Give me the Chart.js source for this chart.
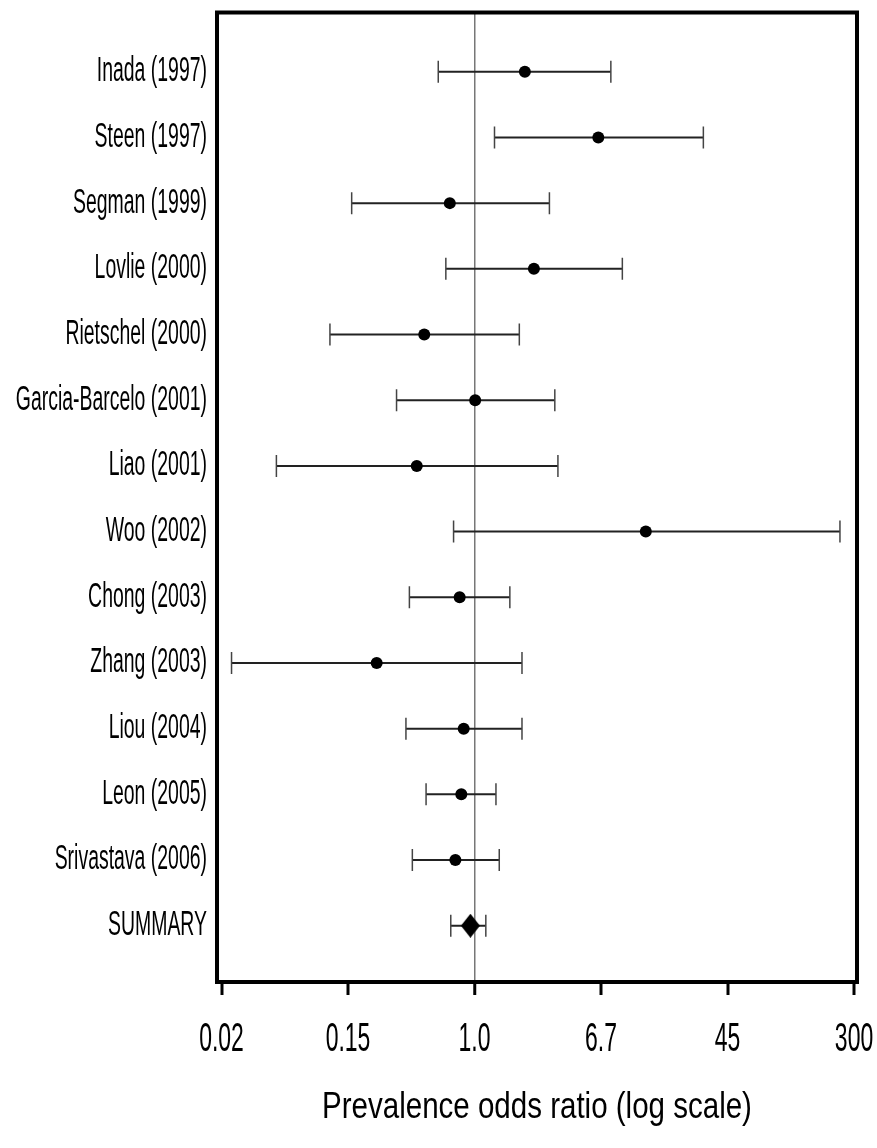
<!DOCTYPE html>
<html>
<head>
<meta charset="utf-8">
<script src="https://cdn.jsdelivr.net/npm/chart.js@4.4.1/dist/chart.umd.min.js"></script>
<style>
  html, body { margin: 0; padding: 0; background: #fff; }
  #wrap { width: 877px; height: 1148px; }
</style>
</head>
<body>
<div id="wrap"><canvas id="forest" width="877" height="1148"></canvas></div>
<script>
// Study labels, top to bottom; the pooled estimate is the last row
const studies = [
  'Inada (1997)', 'Steen (1997)', 'Segman (1999)', 'Lovlie (2000)',
  'Rietschel (2000)', 'Garcia-Barcelo (2001)', 'Liao (2001)', 'Woo (2002)',
  'Chong (2003)', 'Zhang (2003)', 'Liou (2004)', 'Leon (2005)',
  'Srivastava (2006)', 'SUMMARY'
];
// Prevalence odds ratios and 95% confidence limits
const oddsRatio = [2.13, 6.42, 0.69, 2.44, 0.47, 1.01, 0.42, 13.1, 0.80, 0.23, 0.85, 0.82, 0.75, 0.94];
const ciLower   = [0.58, 1.35, 0.158, 0.65, 0.114, 0.31, 0.051, 0.73, 0.376, 0.026, 0.357, 0.483, 0.393, 0.70];
const ciUpper   = [7.75, 31.1, 3.08, 9.21, 1.96, 3.34, 3.50, 242, 1.70, 2.04, 2.04, 1.38, 1.45, 1.185];
// Axis ticks (equal steps on the log axis) and their printed labels
const tickValues = [0.02237, 0.1496, 1, 6.686, 44.70, 298.9];
const tickLabels = ['0.02', '0.15', '1.0', '6.7', '45', '300'];
const axisTitle = 'Prevalence odds ratio (log scale)';

const summaryIndex = studies.length - 1;
const FONT = "'Liberation Sans', Arial, sans-serif";
// condensed, tall lettering: [horizontal, vertical] scale keyed by font size
const textStretch = { '24': [0.81, 1.43], '28': [0.82, 1.45], '36': [0.82, 1.0] };

// diamond marker for the pooled estimate
const diamond = document.createElement('canvas');
diamond.width = 19; diamond.height = 24;
(function () {
  const g = diamond.getContext('2d');
  g.fillStyle = '#000';
  g.beginPath();
  g.moveTo(9.5, 0); g.lineTo(19, 12); g.lineTo(9.5, 24); g.lineTo(0, 12);
  g.closePath(); g.fill();
})();

const whiskers = studies.map((name, i) => ({
  label: name,
  data: [{ x: ciLower[i], y: i }, { x: ciUpper[i], y: i }],
  showLine: true,
  borderColor: '#222',
  borderWidth: 2,
  pointStyle: 'line',
  pointRotation: 90,
  pointRadius: 11,
  pointHoverRadius: 11,
  pointBorderColor: '#444',
  pointBorderWidth: 1.5,
  order: 2
}));

const estimates = {
  label: 'estimate',
  data: studies.map((name, i) => ({ x: oddsRatio[i], y: i })).filter((p, i) => i !== summaryIndex),
  pointStyle: 'circle',
  pointRadius: 6,
  pointHoverRadius: 6,
  backgroundColor: '#000',
  borderColor: '#000',
  borderWidth: 0,
  order: 0
};

const pooled = {
  label: 'summary',
  data: [{ x: oddsRatio[summaryIndex], y: summaryIndex }],
  pointStyle: diamond,
  pointRadius: 10,
  order: 0
};

// condense / stretch canvas lettering around its anchor point
const tallText = {
  id: 'tallText',
  beforeDraw(chart) {
    const ctx = chart.ctx;
    if (ctx.__tall) return;
    const base = ctx.fillText;
    ctx.fillText = function (text, x, y, maxWidth) {
      const m = /(\d+(?:\.\d+)?)px/.exec(this.font);
      const s = (m && textStretch[m[1]]) || [1, 1];
      this.save();
      this.translate(x, y);
      this.scale(s[0], s[1]);
      if (maxWidth === undefined) base.call(this, text, 0, 0);
      else base.call(this, text, 0, 0, maxWidth / s[0]);
      this.restore();
    };
    ctx.__tall = true;
  }
};

// heavy box around the plotting region
const frame = {
  id: 'frame',
  afterDraw(chart) {
    const { ctx, chartArea: a } = chart;
    ctx.save();
    ctx.strokeStyle = '#000';
    ctx.lineWidth = 4;
    ctx.strokeRect(a.left, a.top, a.right - a.left, a.bottom - a.top);
    ctx.restore();
  }
};

function noEdgePadding(sc) {
  sc.paddingLeft = 0; sc.paddingRight = 0; sc.paddingTop = 0; sc.paddingBottom = 0;
}

new Chart(document.getElementById('forest'), {
  type: 'scatter',
  data: { datasets: [...whiskers, estimates, pooled] },
  plugins: [tallText, frame],
  options: {
    responsive: false,
    animation: false,
    devicePixelRatio: 1,
    events: [],
    layout: { padding: { top: 12, right: 20, left: 0, bottom: 0 } },
    plugins: { legend: { display: false }, tooltip: { enabled: false } },
    scales: {
      x: {
        type: 'logarithmic',
        position: 'bottom',
        min: 0.0209,
        max: 312.6,
        afterBuildTicks: sc => { sc.ticks = tickValues.map(v => ({ value: v })); },
        afterFit: sc => { sc.height = 166; noEdgePadding(sc); },
        ticks: {
          callback: (v, i) => tickLabels[i],
          font: { family: FONT, size: 28 },
          color: '#000',
          padding: 28,
          autoSkip: false,
          maxRotation: 0
        },
        grid: {
          color: c => (c.tick && c.tick.value === 1 ? '#777' : 'rgba(0,0,0,0)'),
          lineWidth: c => (c.tick && c.tick.value === 1 ? 1.5 : 0),
          drawTicks: true,
          tickLength: 13,
          tickWidth: 3,
          tickColor: '#000'
        },
        border: { display: false },
        title: {
          display: true,
          text: axisTitle,
          font: { family: FONT, size: 36, lineHeight: 1 },
          color: '#000',
          padding: { top: 0, bottom: 22 }
        }
      },
      y: {
        type: 'linear',
        min: -0.902,
        max: 13.857,
        reverse: true,
        afterBuildTicks: sc => { sc.ticks = studies.map((s, i) => ({ value: i })); },
        afterFit: sc => { sc.width = 217; noEdgePadding(sc); },
        ticks: {
          callback: v => studies[v],
          font: { family: FONT, size: 24 },
          color: '#000',
          padding: 10,
          autoSkip: false
        },
        grid: { display: false, drawTicks: false },
        border: { display: false }
      }
    }
  }
});
</script>
</body>
</html>
